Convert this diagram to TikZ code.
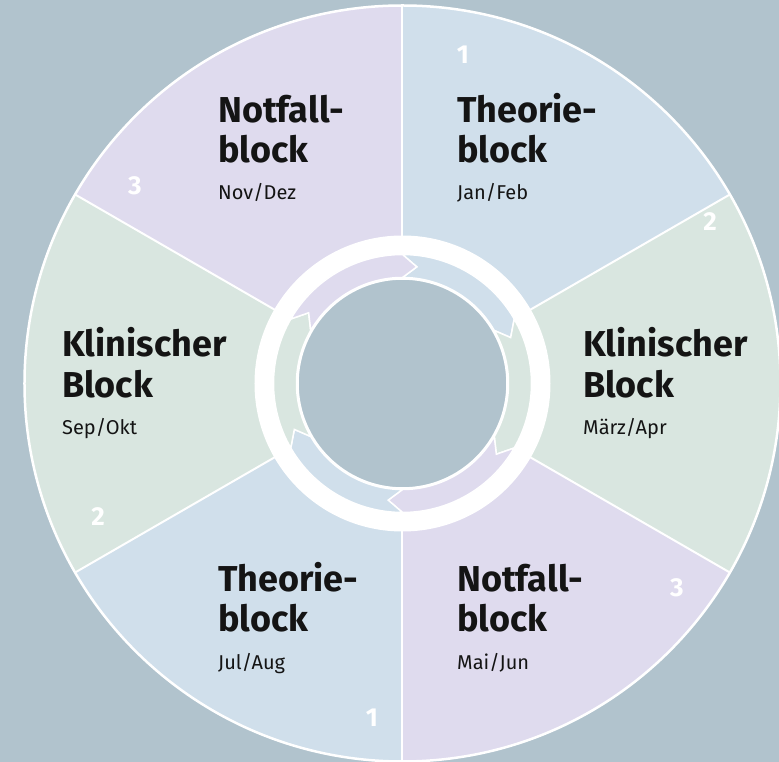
\documentclass[tikz,border=0pt]{standalone}
\usepackage{fontspec}
\setmainfont{Fira Sans}
\definecolor{bg}{HTML}{B1C3CD}
\definecolor{sblue}{HTML}{D0DFEB}
\definecolor{sgreen}{HTML}{D9E6E0}
\definecolor{slav}{HTML}{DFDBEE}
\definecolor{ink}{HTML}{141414}
\tikzset{
  title/.style={anchor=base west, inner sep=0pt, font=\fontsize{36}{40}\selectfont\bfseries, text=ink},
  sub/.style={anchor=base west, inner sep=0pt, font=\fontsize{20}{24}\selectfont, text=ink},
  num/.style={inner sep=0pt, font=\fontsize{26}{30}\selectfont\bfseries, text=white},
  divider/.style={draw=white, line width=2pt}
}
\newcommand{\sectorfill}[3]{\fill[#1] (0,0) -- (#2:378) arc[start angle=#2, end angle=#3, radius=378] -- cycle;}
\newcommand{\arrowseg}[2]{%
  \filldraw[fill=#1, draw=white, line width=1.5pt, line join=miter]
    (#2:129) arc[start angle=#2, end angle={#2-60}, radius=129]
    -- ({#2-67}:117.5) -- ({#2-60}:106)
    arc[start angle={#2-60}, end angle=#2, radius=106]
    -- ({#2-7}:117.5) -- cycle;}
\begin{document}
\begin{tikzpicture}[x=1pt,y=1pt]
\fill[bg] (-402.5,-378.5) rectangle (376.5,383.5);
\useasboundingbox (-402.5,-378.5) rectangle (376.5,383.5);
% sectors
\sectorfill{sblue}{30}{90}
\sectorfill{sgreen}{-30}{30}
\sectorfill{slav}{-90}{-30}
\sectorfill{sblue}{-150}{-90}
\sectorfill{sgreen}{150}{210}
\sectorfill{slav}{90}{150}
\coordinate (C) at (0,0);
\foreach \a in {90,30,-30,-90,-150,150} {
  \coordinate (e\a) at (\a:378);
  \draw[divider] (C) -- (e\a);
}
\draw[white, line width=2.5pt] (C) circle (378);
% inner ring
\fill[white] (C) circle (148);
\arrowseg{sblue}{90}
\arrowseg{sgreen}{30}
\arrowseg{slav}{-30}
\arrowseg{sblue}{-90}
\arrowseg{sgreen}{-150}
\arrowseg{slav}{150}
\filldraw[fill=bg, draw=white, line width=1.5pt] (C) circle (104.5);
% numbers
\node[num] (n1) at (60.5,328.5) {1};
\node[num] (n2) at (307.5,161.5) {2};
\node[num] (n3) at (274.5,-204.5) {3};
\node[num] (n4) at (-30.5,-334.5) {1};
\node[num] (n5) at (-304.5,-133.5) {2};
\node[num] (n6) at (-267.5,197.5) {3};
% labels: pixel (px,py) -> (px-402.5, 383.5-py)
% top right
\node[title] (a1) at (54.5,260.5) {Theorie-};
\node[title] (a2) at (54.5,220.5) {block};
\node[sub]   (a3) at (54.5,183.5) {Jan/Feb};
% top left
\node[title] (b1) at (-184.5,260.5) {Notfall-};
\node[title] (b2) at (-184.5,220.5) {block};
\node[sub]   (b3) at (-184.5,183.5) {Nov/Dez};
% right
\node[title] (c1) at (180.5,26.5) {Klinischer};
\node[title] (c2) at (180.5,-14.5) {Block};
\node[sub]   (c3) at (180.5,-51.5) {März/Apr};
% left
\node[title] (d1) at (-340.5,26.5) {Klinischer};
\node[title] (d2) at (-340.5,-14.5) {Block};
\node[sub]   (d3) at (-340.5,-51.5) {Sep/Okt};
% bottom left
\node[title] (f1) at (-184.5,-208.5) {Theorie-};
\node[title] (f2) at (-184.5,-248.5) {block};
\node[sub]   (f3) at (-184.5,-285.5) {Jul/Aug};
% bottom right
\node[title] (g1) at (54.5,-208.5) {Notfall-};
\node[title] (g2) at (54.5,-248.5) {block};
\node[sub]   (g3) at (54.5,-285.5) {Mai/Jun};
\end{tikzpicture}
\end{document}
